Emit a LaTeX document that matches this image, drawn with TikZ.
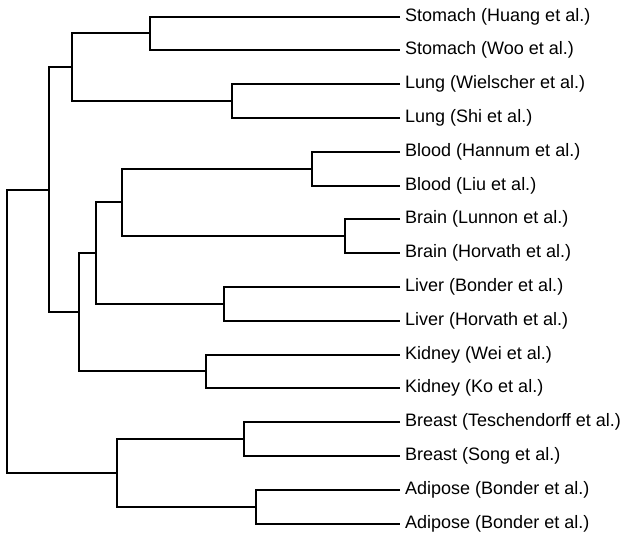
\documentclass[tikz,border=0pt]{standalone}
\usepackage{fontspec}
\setmainfont{Liberation Sans}
\begin{document}
\begin{tikzpicture}[x=1pt,y=-1pt,
  leaf/.style={anchor=west,inner xsep=5pt,inner ysep=0pt,font=\fontsize{18}{20}\selectfont},
  branch/.style={line width=2pt}]
  \useasboundingbox (0,0) rectangle (626,533);
  % leaves
  \node[leaf] (sto1) at (400,16.5) {Stomach (Huang et al.)};
  \node[leaf] (sto2) at (400,50.3) {Stomach (Woo et al.)};
  \node[leaf] (lun1) at (400,84.1) {Lung (Wielscher et al.)};
  \node[leaf] (lun2) at (400,117.9) {Lung (Shi et al.)};
  \node[leaf] (blo1) at (400,151.7) {Blood (Hannum et al.)};
  \node[leaf] (blo2) at (400,185.5) {Blood (Liu et al.)};
  \node[leaf] (bra1) at (400,219.3) {Brain (Lunnon et al.)};
  \node[leaf] (bra2) at (400,253.1) {Brain (Horvath et al.)};
  \node[leaf] (liv1) at (400,286.9) {Liver (Bonder et al.)};
  \node[leaf] (liv2) at (400,320.7) {Liver (Horvath et al.)};
  \node[leaf] (kid1) at (400,354.5) {Kidney (Wei et al.)};
  \node[leaf] (kid2) at (400,388.3) {Kidney (Ko et al.)};
  \node[leaf] (bre1) at (400,422.1) {Breast (Teschendorff et al.)};
  \node[leaf] (bre2) at (400,455.9) {Breast (Song et al.)};
  \node[leaf] (adi1) at (400,489.7) {Adipose (Bonder et al.)};
  \node[leaf] (adi2) at (400,523.5) {Adipose (Bonder et al.)};
  % merge points
  \coordinate (sto) at (150,33.4);
  \coordinate (lun) at (232,101);
  \coordinate (stolun) at (71.7,67.2);
  \coordinate (blo) at (311.7,168.6);
  \coordinate (bra) at (345,236.2);
  \coordinate (blobra) at (121.7,202.4);
  \coordinate (liv) at (224.3,303.8);
  \coordinate (blv) at (96.3,253.1);
  \coordinate (kid) at (205.7,371.4);
  \coordinate (bkd) at (79,312.2);
  \coordinate (upper) at (49.3,189.7);
  \coordinate (bre) at (244.3,439);
  \coordinate (adi) at (255.7,506.6);
  \coordinate (breadi) at (117,472.8);
  \coordinate (root) at (7,331.2);
  % branches
  \draw[branch] (sto1.west) -| (sto) |- (sto2.west);
  \draw[branch] (lun1.west) -| (lun) |- (lun2.west);
  \draw[branch] (sto) -| (stolun) |- (lun);
  \draw[branch] (blo1.west) -| (blo) |- (blo2.west);
  \draw[branch] (bra1.west) -| (bra) |- (bra2.west);
  \draw[branch] (blo) -| (blobra) |- (bra);
  \draw[branch] (liv1.west) -| (liv) |- (liv2.west);
  \draw[branch] (blobra) -| (blv) |- (liv);
  \draw[branch] (kid1.west) -| (kid) |- (kid2.west);
  \draw[branch] (blv) -| (bkd) |- (kid);
  \draw[branch] (stolun) -| (upper) |- (bkd);
  \draw[branch] (bre1.west) -| (bre) |- (bre2.west);
  \draw[branch] (adi1.west) -| (adi) |- (adi2.west);
  \draw[branch] (bre) -| (breadi) |- (adi);
  \draw[branch] (upper) -| (root) |- (breadi);
\end{tikzpicture}
\end{document}
